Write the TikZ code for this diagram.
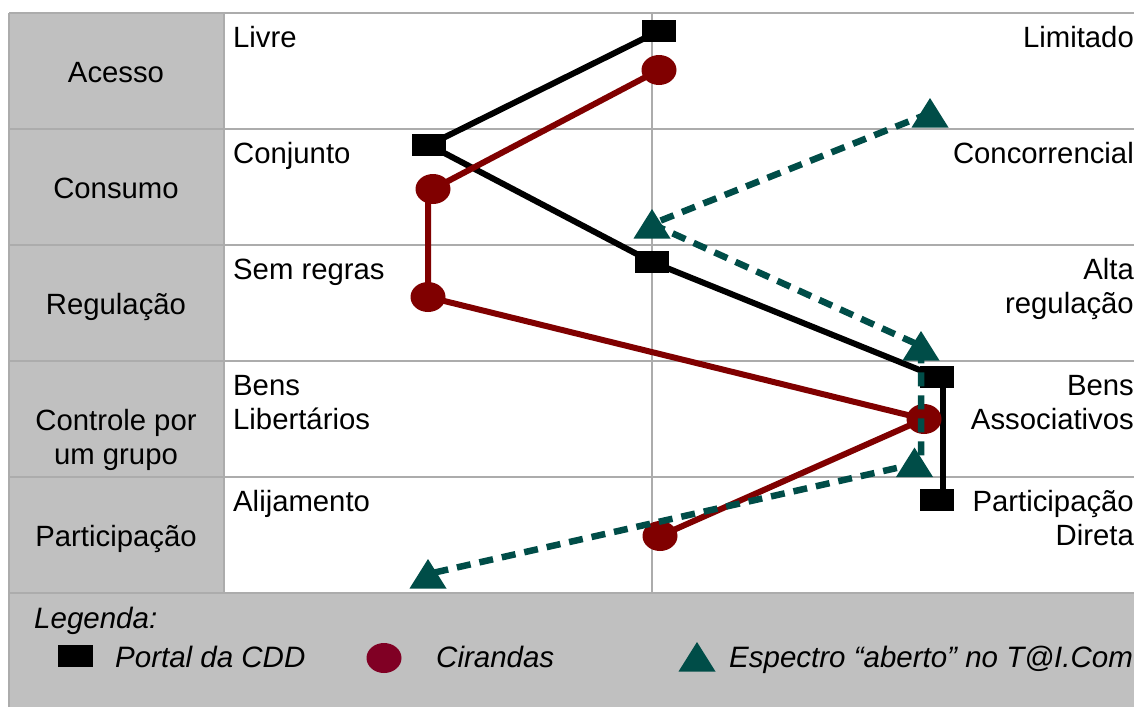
\documentclass[tikz,border=0pt]{standalone}
\usepackage{fontspec}
\setmainfont{Liberation Sans}
\usetikzlibrary{shapes.geometric}
\definecolor{gridc}{RGB}{172,172,172}
\definecolor{fillc}{RGB}{192,192,192}
\definecolor{redc}{RGB}{128,0,0}
\definecolor{legredc}{RGB}{128,0,36}
\definecolor{tealc}{RGB}{0,77,72}
\newcommand{\tealtri}[1]{\fill[tealc] ([shift={(-18.5,14.5)}]#1) -- ([shift={(18.5,14.5)}]#1) -- ([shift={(0,-15)}]#1) -- cycle;}
\begin{document}
\begin{tikzpicture}[x=1pt,y=-1pt,
  gridline/.style={draw=gridc,line width=1.5pt},
  lbl/.style={font=\fontsize{29.3}{34}\selectfont,inner sep=0pt},
  leg/.style={font=\fontsize{29.5}{34}\selectfont\itshape,inner sep=0pt},
  sqmark/.style={fill=black,minimum width=34pt,minimum height=22pt,inner sep=0pt},
  dotmark/.style={ellipse,fill=redc,minimum width=35pt,minimum height=30pt,inner sep=0pt},
  blkline/.style={line width=6pt,black},
  redline/.style={line width=6pt,redc},
  grnline/.style={line width=6.5pt,tealc,dash pattern=on 14pt off 9pt},
]
\useasboundingbox (0,0) rectangle (1134,707);
\fill[white] (0,0) rectangle (1134,707);
\fill[fillc] (9,13) rectangle (224,593);
\fill[fillc] (9,593) rectangle (1134,707);
\foreach \yy in {13,129,245,361,477,593} {\draw[gridline] (9,\yy) -- (1134,\yy);}
\draw[gridline] (9,13) -- (9,707);
\draw[gridline] (224,13) -- (224,593);
\draw[gridline] (652,13) -- (652,593);

% row headers
\node[lbl,anchor=base] (hA) at (116,82) {Acesso};
\node[lbl,anchor=base] (hB) at (116,198) {Consumo};
\node[lbl,anchor=base] (hC) at (116,314) {Regulação};
\node[lbl,anchor=base,align=center] (hD) at (116,464) {Controle por\\um grupo};
\node[lbl,anchor=base] (hE) at (116,546) {Participação};

% left labels
\node[lbl,anchor=base west] (lA) at (233,47) {Livre};
\node[lbl,anchor=base west] (lB) at (233,163) {Conjunto};
\node[lbl,anchor=base west] (lC) at (233,279) {Sem regras};
\node[lbl,anchor=base west,align=left] (lD) at (233,429) {Bens\\Libertários};
\node[lbl,anchor=base west] (lE) at (233,511) {Alijamento};

% right labels
\node[lbl,anchor=base east] (rA) at (1134,47) {Limitado};
\node[lbl,anchor=base east] (rB) at (1134,163) {Concorrencial};
\node[lbl,anchor=base east,align=right] (rC) at (1134,313) {Alta\\regulação};
\node[lbl,anchor=base east,align=right] (rD) at (1134,429) {Bens\\Associativos};
\node[lbl,anchor=base east,align=right] (rE) at (1134,545) {Participação\\Direta};

% black series
\coordinate (b1) at (659,31);
\coordinate (b2) at (429,145);
\coordinate (b3) at (652,262);
\coordinate (b4) at (937,377);
\coordinate (b5) at (937,500);
\draw[blkline] (b1) -- (b2) -- (b3) -- (b4);
\draw[blkline] ([xshift=6pt]b4) -- ([xshift=6pt]b5);
\foreach \n in {b1,b2,b3,b4,b5} {\node[sqmark] at (\n) {};}

% red series
\coordinate (r1) at (659,70);
\coordinate (r2) at (433,189);
\coordinate (r3) at (428,297);
\coordinate (r4) at (924,419);
\coordinate (r5) at (660,536);
\draw[redline,line join=round] (r1) -- (r2) -- ([xshift=-5pt]r2) -- (r3) -- (r4) -- (r5);
\foreach \n in {r1,r2,r3,r4,r5} {\node[dotmark] at (\n) {};}

% green series
\coordinate (t1) at (930,113);
\coordinate (t2) at (652,224);
\coordinate (t3) at (921,346);
\coordinate (t4) at (914.5,462.5);
\coordinate (t5) at (428,574);
\draw[grnline] (t1) -- (t2) -- (t3) -- (t3 |- t4) -- (t5);
\foreach \n in {t1,t2,t3,t4,t5} {\tealtri{\n}}

% legend
\node[leg,anchor=base west] (legtitle) at (34,628) {Legenda:};
\node[sqmark,minimum width=35pt] (legsq) at (75,656) {};
\node[leg,anchor=base west] (legA) at (115,667) {Portal da CDD};
\node[dotmark,fill=legredc] (legdot) at (384,658) {};
\node[leg,anchor=base west] (legB) at (436,667) {Cirandas};
\coordinate (legtri) at (697,657);
\tealtri{legtri}
\node[leg,anchor=base west] (legC) at (729,667) {Espectro “aberto” no T@I.Com};
\end{tikzpicture}
\end{document}
